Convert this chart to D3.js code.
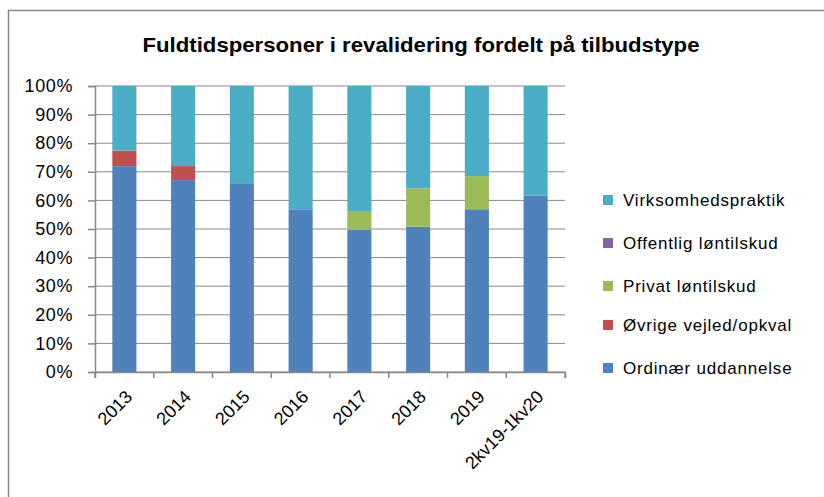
<!DOCTYPE html>
<html><head><meta charset="utf-8">
<script src="https://cdn.jsdelivr.net/npm/d3@7"></script>
<style>body{margin:0;background:#fff;} svg{display:block;font-family:"Liberation Sans",Arial,sans-serif;}</style>
</head><body><svg id="c" width="824" height="497"></svg>
<script>
const categories = ["2013","2014","2015","2016","2017","2018","2019","2kv19-1kv20"];
const seriesNames = ["Ordinær uddannelse","Øvrige vejled/opkval","Privat løntilskud","Offentlig løntilskud","Virksomhedspraktik"];
const ordinaer   = [0.720,0.671,0.660,0.569,0.497,0.508,0.569,0.617];
const ovrige     = [0.054,0.049,0.000,0.000,0.000,0.000,0.000,0.000];
const privat     = [0.000,0.000,0.000,0.000,0.066,0.134,0.116,0.000];
const offentlig  = [0.000,0.000,0.000,0.000,0.000,0.000,0.000,0.000];
const virksomhed = categories.map((c,i)=>1-ordinaer[i]-ovrige[i]-privat[i]-offentlig[i]);
const yTicks = [0,0.1,0.2,0.3,0.4,0.5,0.6,0.7,0.8,0.9,1.0];
const colors = ["#4F81BD","#C0504D","#9BBB59","#8064A2","#4BACC6"];

const values = [ordinaer, ovrige, privat, offentlig, virksomhed];
const rows = categories.map((c,i)=>{const o={cat:c}; seriesNames.forEach((s,k)=>o[s]=values[k][i]); return o;});
const stack = d3.stack().keys(seriesNames)(rows);

const svg = d3.select("#c");
// chart border
svg.append("rect").attr("x",8.5).attr("y",10.5).attr("width",830).attr("height",500)
  .attr("fill","#fff").attr("stroke","#868686").attr("stroke-width",1.5);

const L=95, R=565, T=86, B=372;
const x = d3.scaleBand().domain(categories).range([L,R]).paddingInner(0.59).paddingOuter(0.295);
const xt = d3.scaleBand().domain(categories).range([L,R]);
const y = d3.scaleLinear().domain([0,1]).range([B,T]);

// gridlines
svg.append("g").selectAll("line").data(yTicks).join("line")
  .attr("x1",L).attr("x2",R).attr("y1",d=>y(d)).attr("y2",d=>y(d))
  .attr("stroke","#888").attr("stroke-width",1);

// bars
svg.append("g").selectAll("g").data(stack).join("g")
  .attr("fill",(d,i)=>colors[i])
  .selectAll("rect").data(d=>d).join("rect")
  .attr("x",d=>x(d.data.cat)).attr("width",x.bandwidth())
  .attr("y",d=>y(d[1])).attr("height",d=>Math.max(0,y(d[0])-y(d[1])));

// y axis
const ya = d3.axisLeft(y).tickValues(yTicks).tickFormat(d3.format(".0%")).tickSize(7).tickPadding(15);
const gy = svg.append("g").attr("transform",`translate(${L},0)`).call(ya);
gy.select(".domain").attr("stroke","#888").attr("stroke-width",1.5);
gy.selectAll(".tick line").attr("stroke","#888").attr("stroke-width",1.5);
gy.selectAll("text").attr("font-size",18).attr("fill","#000").attr("letter-spacing",0.6)
  .attr("font-family","Liberation Sans, Arial, sans-serif");

// x axis
const xa = d3.axisBottom(xt).tickSize(6).tickFormat("");
const gx = svg.append("g").attr("transform",`translate(0,${B})`).call(xa);
gx.select(".domain").attr("stroke","#888").attr("stroke-width",1.5);
gx.selectAll(".tick").remove();
// tick marks at band boundaries
const bounds = categories.map(c=>xt(c)).concat([R]);
gx.selectAll("line.tk").data(bounds).join("line").attr("class","tk")
  .attr("x1",d=>d).attr("x2",d=>d).attr("y1",0).attr("y2",6).attr("stroke","#888").attr("stroke-width",1.5);
svg.append("g").selectAll("text").data(categories).join("text")
  .attr("transform",d=>`translate(${xt(d)+xt.bandwidth()/2},${B+17}) rotate(-45)`)
  .attr("text-anchor","end").attr("dy","0.71em").attr("font-size",18).attr("fill","#000")
  .text(d=>d);

// title
svg.append("text").attr("x",421).attr("y",52).attr("text-anchor","middle")
  .attr("font-size",21).attr("font-weight","bold").attr("fill","#000")
  .attr("textLength",557).attr("lengthAdjust","spacingAndGlyphs")
  .attr("font-family","Liberation Sans Narrow, Liberation Sans, Arial, sans-serif")
  .text("Fuldtidspersoner i revalidering fordelt på tilbudstype");

// legend
const legendY = [368,325,286,243,200];
const lg = svg.append("g").selectAll("g").data(seriesNames).join("g")
  .attr("transform",(d,i)=>`translate(603,${legendY[i]})`);
lg.append("rect").attr("x",0).attr("y",-5).attr("width",10).attr("height",10).attr("fill",(d,i)=>colors[i]);
lg.append("text").attr("x",20).attr("y",0).attr("dy","0.36em").attr("font-size",17).attr("fill","#000")
  .attr("letter-spacing",0.8).text(d=>d);
</script></body></html>
